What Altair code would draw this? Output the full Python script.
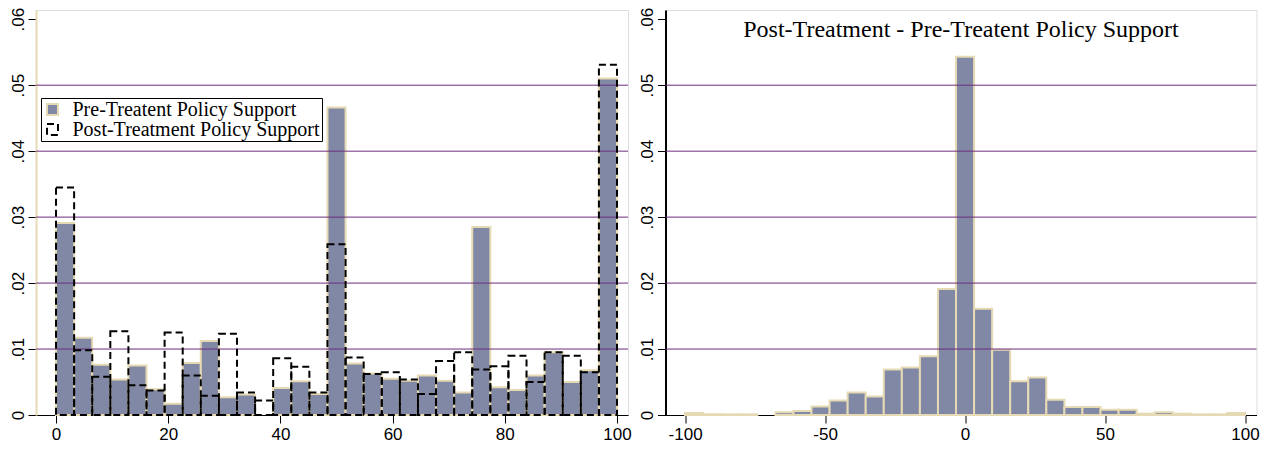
import altair as alt
import pandas as pd

# ---------------- data ----------------
N_BINS = 31
LEFT_RANGE = [0, 100]
RIGHT_RANGE = [-100, 100]

series_names = ["Pre-Treatent Policy Support", "Post-Treatment Policy Support"]

pre_support = [0.0291, 0.0117, 0.0076, 0.0054, 0.0075, 0.0039, 0.0017, 0.0079,
               0.0112, 0.0027, 0.0031, 0.0000, 0.0041, 0.0051, 0.0032, 0.0466,
               0.0078, 0.0063, 0.0055, 0.0052, 0.0060, 0.0052, 0.0034, 0.0285,
               0.0042, 0.0038, 0.0060, 0.0095, 0.0050, 0.0068, 0.0510]

post_support = [0.0345, 0.0098, 0.0058, 0.0127, 0.0045, 0.0037, 0.0125, 0.0060,
                0.0029, 0.0123, 0.0034, 0.0022, 0.0086, 0.0073, 0.0034, 0.0259,
                0.0087, 0.0062, 0.0065, 0.0054, 0.0032, 0.0082, 0.0095, 0.0069,
                0.0074, 0.0090, 0.0050, 0.0095, 0.0090, 0.0065, 0.0531]

diff_density = [0.0003, 0.0001, 0.0001, 0.0001, 0.0000, 0.0004, 0.0006, 0.0013,
                0.0022, 0.0034, 0.0028, 0.0069, 0.0072, 0.0089, 0.0191, 0.0543,
                0.0161, 0.0099, 0.0051, 0.0057, 0.0023, 0.0012, 0.0012, 0.0008,
                0.0008, 0.0002, 0.0004, 0.0002, 0.0001, 0.0001, 0.0003]

x_ticks_left = [0, 20, 40, 60, 80, 100]
x_ticks_right = [-100, -50, 0, 50, 100]
y_ticks = [0, 0.01, 0.02, 0.03, 0.04, 0.05, 0.06]
grid_values = [0.01, 0.02, 0.03, 0.04, 0.05]
right_title = "Post-Treatment - Pre-Treatent Policy Support"

# ---------------- styling ----------------
FILL = "#8088A5"
EDGE = "#E6DAB4"
GRID = "#6E2C7E"
W_L, W_R, H = 592, 591, 405
Y_DOMAIN = [0, 0.0614]


def bins(values, rng, series):
    w = (rng[1] - rng[0]) / N_BINS
    return [dict(series=series, b0=rng[0] + i * w, b1=rng[0] + (i + 1) * w, v=v)
            for i, v in enumerate(values)]


left_df = pd.DataFrame(bins(pre_support, LEFT_RANGE, series_names[0])
                       + bins(post_support, LEFT_RANGE, series_names[1]))
right_df = pd.DataFrame(bins(diff_density, RIGHT_RANGE, series_names[0]))
grid_df = pd.DataFrame({"g": grid_values})

label_expr = "datum.value == 0 ? '0' : substring(format(datum.value, '.2f'), 1)"


def y_axis(domain_color):
    return alt.Axis(values=y_ticks, labelExpr=label_expr, labelAngle=270,
                    labelAlign="center", labelBaseline="bottom", tickSize=8,
                    labelPadding=1, domainColor=domain_color, domainWidth=2,
                    tickColor="black", labelFont="Liberation Sans",
                    labelFontSize=17, labelColor="black", grid=False, title=None)


def x_axis(vals):
    return alt.Axis(values=vals, tickSize=8, labelPadding=3, domainColor="black",
                    tickColor="black", labelFont="Liberation Sans", labelFontSize=17,
                    labelColor="black", grid=False, title=None, labelFlush=False,
                    labelExpr="replace(datum.label, '\u2212', '-')")


legend = alt.Legend(orient="none", legendX=5, legendY=88, title=None,
                    strokeColor="black", fillColor="white", padding=1.5,
                    labelFont="Liberation Serif", labelFontSize=20, labelColor="black",
                    symbolType="square", symbolSize=120, symbolStrokeWidth=2,
                    labelOffset=10, rowPadding=0, labelLimit=400)

fill_enc = alt.Fill("series:N", scale=alt.Scale(domain=series_names, range=[FILL, "transparent"]),
                    legend=legend)
stroke_enc = alt.Stroke("series:N", scale=alt.Scale(domain=series_names, range=[EDGE, "black"]),
                        legend=legend)
dash_enc = alt.StrokeDash("series:N", scale=alt.Scale(domain=series_names, range=[[1, 0], [7, 4]]),
                          legend=legend)

xl = alt.X("b0:Q", scale=alt.Scale(domain=[-3.57, 101.96], nice=False, zero=False),
           axis=x_axis(x_ticks_left))
yl = alt.Y("v:Q", scale=alt.Scale(domain=Y_DOMAIN, nice=False), axis=y_axis(EDGE))

base_l = alt.Chart(left_df)
pre_layer = base_l.transform_filter(f"datum.series == '{series_names[0]}'").transform_filter(
    "datum.v > 0").mark_bar(strokeWidth=2).encode(
    x=xl, x2="b1:Q", y=yl, y2=alt.datum(0), fill=fill_enc, stroke=stroke_enc,
    strokeDash=dash_enc)
post_layer = base_l.transform_filter(f"datum.series == '{series_names[1]}'").mark_bar(
    strokeWidth=2).encode(
    x=xl, x2="b1:Q", y=yl, y2=alt.datum(0), fill=fill_enc, stroke=stroke_enc,
    strokeDash=dash_enc)
grid_l = alt.Chart(grid_df).mark_rule(color=GRID, strokeWidth=1).encode(y=alt.Y("g:Q"))

left = alt.layer(pre_layer, grid_l, post_layer).properties(width=W_L, height=H)

xr = alt.X("b0:Q", scale=alt.Scale(domain=[-107.0, 104.1], nice=False, zero=False),
           axis=x_axis(x_ticks_right))
yr = alt.Y("v:Q", scale=alt.Scale(domain=Y_DOMAIN, nice=False), axis=y_axis("black"))

diff_layer = alt.Chart(right_df).transform_filter("datum.v > 0").mark_bar(
    fill=FILL, stroke=EDGE, strokeWidth=2).encode(x=xr, x2="b1:Q", y=yr, y2=alt.datum(0))
grid_r = alt.Chart(grid_df).mark_rule(color=GRID, strokeWidth=1).encode(y=alt.Y("g:Q"))
title_r = alt.Chart(pd.DataFrame({"t": [right_title]})).mark_text(
    font="Liberation Serif", fontSize=24, color="black", align="center",
    baseline="alphabetic").encode(text="t:N", x=alt.value(W_R / 2), y=alt.value(27))

right = alt.layer(diff_layer, grid_r, title_r).properties(width=W_R, height=H)

chart = alt.hconcat(left, right, spacing=5.5).resolve_scale(
    x="independent", y="independent").properties(
    padding={"left": 0, "top": -2, "right": 0, "bottom": 0}
).configure_view(strokeWidth=0).configure(background="white")

chart.save("out.html", embed_options={"renderer": "svg", "actions": False})
